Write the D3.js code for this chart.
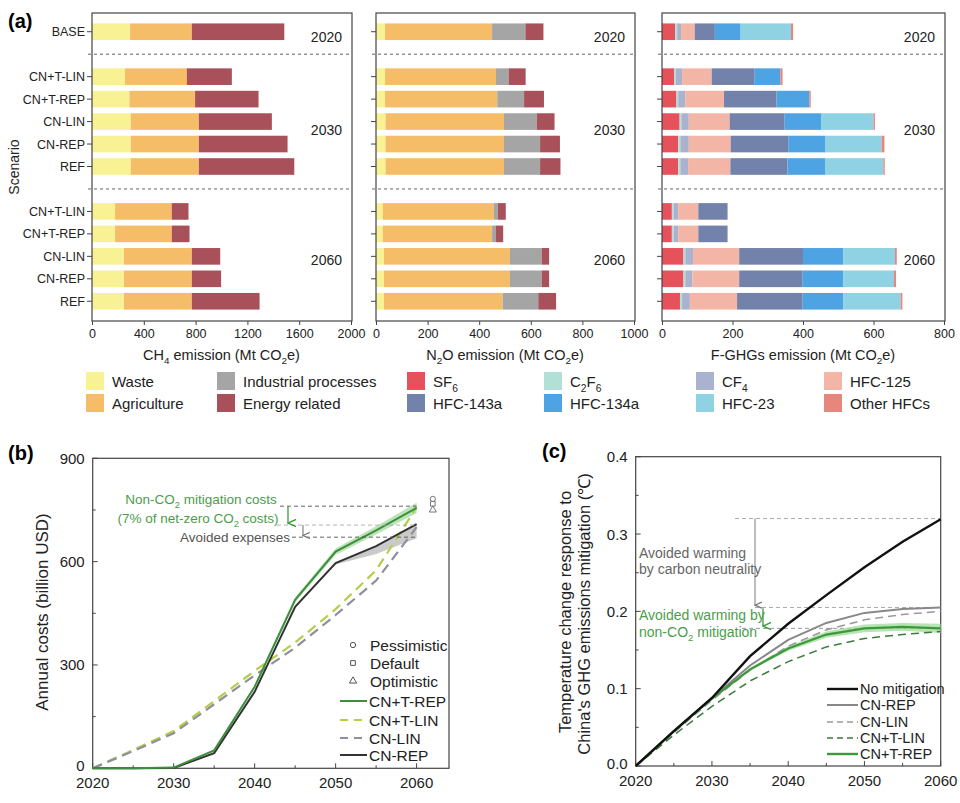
<!DOCTYPE html>
<html><head><meta charset="utf-8">
<script src="https://cdn.jsdelivr.net/npm/d3@7"></script>
<style>body{margin:0;background:#fff}svg{display:block;font-family:"Liberation Sans",Arial,sans-serif}</style>
</head><body><svg id="c" width="960" height="803"></svg>
<script>
// ---------- DATA ----------
const rowLabels = ["BASE","CN+T-LIN","CN+T-REP","CN-LIN","CN-REP","REF","CN+T-LIN","CN+T-REP","CN-LIN","CN-REP","REF"];
const rowSlots = [0,2,3,4,5,6,8,9,10,11,12];
const yearLabels = ["2020","2030","2060"];
const yearSlots = [0,4,10];

const ch4Waste  = [294,255,289,299,299,299,178,178,247,247,247];
const ch4Agri   = [477,477,507,526,526,526,438,438,524,524,524];
const ch4Energy = [714,348,490,564,685,737,129,137,219,226,523];

const n2oWaste  = [35,35,35,37,37,37,26,26,31,31,31];
const n2oAgri   = [415,430,435,459,459,459,431,424,488,488,460];
const n2oInd    = [129,49,104,127,140,140,16,15,123,123,138];
const n2oEnergy = [70,66,77,69,77,79,30,28,29,29,69];

const fSF6     = [37,34,41,50,46,46,28,28,61,61,51];
const fC2F6    = [6,5,5,5,6,6,5,5,5,5,6];
const fCF4     = [11,18,20,21,24,22,13,13,22,20,22];
const fHFC125  = [39,84,110,116,119,120,57,57,131,133,134];
const fHFC143a = [57,122,149,156,163,162,83,83,181,180,186];
const fHFC134a = [73,73,93,103,106,108,0,0,114,115,115];
const fHFC23   = [143,0,0,149,159,164,0,0,147,144,163];
const fOther   = [6,6,4,4,8,4,0,0,5,6,5];

const ch4Ticks = [0,400,800,1200,1600,2000];
const n2oTicks = [0,200,400,600,800,1000];
const fTicks   = [0,200,400,600,800];

const years = [2020,2025,2030,2035,2040,2045,2050,2055,2060];
const costCNTREP = [0,0,2,52,237,489,629,691,756];
const costCNREP  = [0,0,1,44,222,469,596,645,709];
const costCNTLIN = [0,53,108,195,283,365,462,575,758];
const costCNLIN  = [0,50,102,186,270,350,445,545,700];
const costCNTREPband = [0,0,0,2,4,7,9,12,15];
const costCNREPlow = [0,0,1,44,222,469,592,622,668];
const scenarioCostMarks = [782,768,750]; // pessimistic, default, optimistic at 2062
const costYTicks = [0,300,600,900];
const costXTicks = [2020,2030,2040,2050,2060];

const tempNoMit = [0,0.045,0.088,0.142,0.184,0.221,0.257,0.290,0.319];
const tempCNREP = [0,0.045,0.088,0.130,0.163,0.185,0.198,0.203,0.205];
const tempCNLIN = [0,0.043,0.085,0.124,0.155,0.176,0.189,0.196,0.200];
const tempCNTLIN = [0,0.040,0.077,0.110,0.135,0.154,0.165,0.170,0.174];
const tempCNTREP = [0,0.045,0.087,0.125,0.152,0.170,0.178,0.180,0.178];
const tempBand = [0,0,0.001,0.002,0.003,0.004,0.005,0.005,0.006];
const tempYTicks = [0,0.1,0.2,0.3,0.4];

// ---------- HELPERS ----------
const svg = d3.select("#c");
const AX = "#444";
function rich(sel, parts, fs){ // parts: "text" or ["sub"]
  let shift = 0;
  parts.forEach(p=>{
    const isSub = typeof p !== "string";
    const t = sel.append("tspan").text(isSub ? p[0] : p);
    const target = isSub ? fs*0.3 : 0;
    if(target !== shift) t.attr("dy", target - shift);
    shift = target;
    if(isSub) t.attr("font-size", fs*0.68);
  });
  return sel;
}
svg.append("defs").html(`
<marker id="ag" viewBox="0 0 10 10" refX="5" refY="9" markerWidth="7" markerHeight="7" orient="auto-start-reverse"><path d="M1,0 L5,9 L9,0" fill="none" stroke="#3d9b3d" stroke-width="1.6"/></marker>
<marker id="ak" viewBox="0 0 10 10" refX="5" refY="9" markerWidth="7" markerHeight="7" orient="auto-start-reverse"><path d="M1,0 L5,9 L9,0" fill="none" stroke="#777" stroke-width="1.6"/></marker>`);

// ---------- PANEL A ----------
const yA = d3.scaleBand().domain(d3.range(13)).range([20.5,312.5]).paddingInner(0.26).paddingOuter(0.13);
const topA = 13, botA = 321;
const subs = [
 {x0:92,x1:351,max:2000,ticks:ch4Ticks,series:[ch4Waste,ch4Agri,ch4Energy],colors:["#f8f294","#f6bd68","#a9515a"],title:["CH",["4"]," emission (Mt CO",["2"],"e)"],yoff:[5,8,4]},
 {x0:376,x1:634,max:1000,ticks:n2oTicks,series:[n2oWaste,n2oAgri,n2oInd,n2oEnergy],colors:["#f8f294","#f6bd68","#a5a5a5","#a9515a"],title:["N",["2"],"O emission (Mt CO",["2"],"e)"],yoff:[5,8,4]},
 {x0:662,x1:944,max:800,ticks:fTicks,series:[fSF6,fC2F6,fCF4,fHFC125,fHFC143a,fHFC134a,fHFC23,fOther],colors:["#e5525b","#b2e0d6","#a9b3cf","#f3b6a6","#7282aa","#4ea3e3","#8fd2e3","#e6867d"],title:["F-GHGs emission (Mt CO",["2"],"e)"],yoff:[5,8,4]}
];
subs.forEach((s,si)=>{
  const g = svg.append("g");
  const x = d3.scaleLinear().domain([0,s.max]).range([s.x0,s.x1]);
  const rows = rowLabels.map((l,i)=>{const o={slot:rowSlots[i]}; s.series.forEach((arr,k)=>o["k"+k]=arr[i]); return o;});
  const stack = d3.stack().keys(s.series.map((_,k)=>"k"+k))(rows);
  stack.forEach((layer,k)=>{
    g.selectAll(null).data(layer).join("rect")
      .attr("x",d=>x(d[0])).attr("width",d=>Math.max(0,x(d[1])-x(d[0])))
      .attr("y",d=>yA(d.data.slot)).attr("height",yA.bandwidth())
      .attr("fill",s.colors[k]);
  });
  [1,7].forEach(sl=>{
    const yy = yA(sl)+yA.bandwidth()/2;
    g.append("line").attr("x1",s.x0-4).attr("x2",s.x1+1).attr("y1",yy).attr("y2",yy)
      .attr("stroke","#666").attr("stroke-dasharray","3,3").attr("stroke-width",1);
  });
  g.append("rect").attr("x",s.x0).attr("y",topA).attr("width",s.x1-s.x0+1).attr("height",botA-topA)
    .attr("fill","none").attr("stroke",AX).attr("stroke-width",1.2);
  const yy = rowSlots.map(sl=>yA(sl)+yA.bandwidth()/2);
  g.selectAll(null).data(yy).join("line").attr("x1",s.x0-5).attr("x2",s.x0).attr("y1",d=>d).attr("y2",d=>d).attr("stroke",AX);
  if(si===0){
    g.selectAll(null).data(rowLabels).join("text").attr("x",s.x0-7).attr("y",(d,i)=>yy[i]+4.5)
      .attr("text-anchor","end").attr("font-size",12.5).attr("fill","#222").text(d=>d);
  }
  const xa = g.append("g").attr("transform",`translate(0,${botA})`)
    .call(d3.axisBottom(x).tickValues(s.ticks).tickSize(4).tickSizeOuter(0).tickFormat(d3.format("d")));
  xa.select(".domain").remove();
  xa.selectAll("line").attr("stroke",AX);
  xa.selectAll("text").attr("font-size",12.5).attr("fill","#222").attr("dy","0.8em");
  yearLabels.forEach((t,i)=>{
    g.append("text").attr("x",s.x1-9).attr("y",yA(yearSlots[i])+yA.bandwidth()/2+s.yoff[i]+5)
      .attr("text-anchor","end").attr("font-size",14).attr("fill","#222").text(t);
  });
  rich(g.append("text").attr("x",(s.x0+s.x1)/2).attr("y",360).attr("text-anchor","middle").attr("font-size",14.5).attr("fill","#222"), s.title, 14.5);
});
svg.append("text").attr("transform","translate(19,167) rotate(-90)").attr("text-anchor","middle").attr("font-size",14).attr("fill","#222").text("Scenario");
svg.append("text").attr("x",8).attr("y",28).attr("font-size",20).attr("font-weight","bold").text("(a)");

const legItems = [
 {x:86,y:0,c:"#f8f294",t:["Waste"]},{x:86,y:1,c:"#f6bd68",t:["Agriculture"]},
 {x:217,y:0,c:"#a5a5a5",t:["Industrial processes"]},{x:217,y:1,c:"#a9515a",t:["Energy related"]},
 {x:407,y:0,c:"#e5525b",t:["SF",["6"]]},{x:407,y:1,c:"#7282aa",t:["HFC-143a"]},
 {x:544,y:0,c:"#b2e0d6",t:["C",["2"],"F",["6"]]},{x:544,y:1,c:"#4ea3e3",t:["HFC-134a"]},
 {x:696,y:0,c:"#a9b3cf",t:["CF",["4"]]},{x:696,y:1,c:"#8fd2e3",t:["HFC-23"]},
 {x:824,y:0,c:"#f3b6a6",t:["HFC-125"]},{x:824,y:1,c:"#e6867d",t:["Other HFCs"]}
];
legItems.forEach(d=>{
  const yy = 372 + d.y*22;
  svg.append("rect").attr("x",d.x).attr("y",yy).attr("width",18).attr("height",18).attr("fill",d.c);
  rich(svg.append("text").attr("x",d.x+26).attr("y",yy+15).attr("font-size",15).attr("fill","#222"), d.t, 15);
});

// ---------- PANEL B ----------
const xB = d3.scaleLinear().domain([2020,2064]).range([92.7,449]);
const yB = d3.scaleLinear().domain([0,900]).range([768.3,458.3]);
const gB = svg.append("g");
function frameAxes(g,x,y,xt,xminor,yt,yminor,yfmt,x0,x1,y0,y1){
  g.append("rect").attr("x",x0).attr("y",y1).attr("width",x1-x0).attr("height",y0-y1).attr("fill","none").attr("stroke",AX).attr("stroke-width",1.2);
  xt.forEach(v=>g.append("line").attr("x1",x(v)).attr("x2",x(v)).attr("y1",y0).attr("y2",y0-5).attr("stroke",AX));
  xminor.forEach(v=>g.append("line").attr("x1",x(v)).attr("x2",x(v)).attr("y1",y0).attr("y2",y0-3).attr("stroke",AX));
  yt.forEach(v=>g.append("line").attr("x1",x0).attr("x2",x0+5).attr("y1",y(v)).attr("y2",y(v)).attr("stroke",AX));
  yminor.forEach(v=>g.append("line").attr("x1",x0).attr("x2",x0+3).attr("y1",y(v)).attr("y2",y(v)).attr("stroke",AX));
  g.selectAll(null).data(xt).join("text").attr("x",d=>x(d)).attr("y",y0+20).attr("text-anchor","middle").attr("font-size",15).attr("fill","#222").text(d=>d);
  g.selectAll(null).data(yt).join("text").attr("x",x0-8).attr("y",d=>y(d)+(d===0?3:5.5)).attr("text-anchor","end").attr("font-size",15).attr("fill","#222").text(yfmt);
}
frameAxes(gB,xB,yB,costXTicks,[2025,2035,2045,2055],costYTicks,[150,450,750],d=>d,92.7,449,768.3,458.3);

const lineB = arr => d3.line().x((d,i)=>xB(years[i])).y(d=>yB(d))(arr);
const areaGreen = d3.area().x((d,i)=>xB(years[i])).y0((d,i)=>yB(costCNTREP[i]-costCNTREPband[i])).y1((d,i)=>yB(costCNTREP[i]+costCNTREPband[i]));
gB.append("path").attr("d",areaGreen(years)).attr("fill","#9fd89a").attr("opacity",0.7);
const areaGray = d3.area().x((d,i)=>xB(years[i])).y0((d,i)=>yB(costCNREPlow[i])).y1((d,i)=>yB(costCNREP[i]));
gB.append("path").attr("d",areaGray(years)).attr("fill","#bdbdbd").attr("opacity",0.8);
gB.append("path").attr("d",lineB(costCNTLIN)).attr("fill","none").attr("stroke","#b3cf4a").attr("stroke-width",2.2).attr("stroke-dasharray","10,6");
gB.append("path").attr("d",lineB(costCNLIN)).attr("fill","none").attr("stroke","#8d8f9d").attr("stroke-width",2.2).attr("stroke-dasharray","10,6");
gB.append("path").attr("d",lineB(costCNREP)).attr("fill","none").attr("stroke","#333").attr("stroke-width",2);
gB.append("path").attr("d",lineB(costCNTREP)).attr("fill","none").attr("stroke","#3d8f3d").attr("stroke-width",2);
const symTypes=[d3.symbolCircle,d3.symbolSquare,d3.symbolTriangle];
scenarioCostMarks.forEach((v,i)=>{
  gB.append("path").attr("d",d3.symbol().type(symTypes[i]).size(22)()).attr("transform",`translate(${xB(2062)},${yB(v)})`).attr("fill","none").attr("stroke","#777").attr("stroke-width",1);
});
[[761,280,"#555"],[706,277,"#aaa"],[671,292,"#555"]].forEach(([v,xs,c])=>{
  gB.append("line").attr("x1",xs).attr("x2",xB(2060)).attr("y1",yB(v)).attr("y2",yB(v)).attr("stroke",c).attr("stroke-width",0.9).attr("stroke-dasharray","4,3");
});
gB.append("line").attr("x1",288).attr("x2",288).attr("y1",yB(761)).attr("y2",yB(712)).attr("stroke","#3d9b3d").attr("stroke-width",1.3).attr("marker-end","url(#ag)");
gB.append("line").attr("x1",303).attr("x2",303).attr("y1",yB(706)).attr("y2",yB(676)).attr("stroke","#777").attr("stroke-width",1.1).attr("marker-end","url(#ak)");
rich(gB.append("text").attr("x",201).attr("y",504).attr("text-anchor","middle").attr("font-size",13.5).attr("fill","#4a9e4a"),["Non-CO",["2"]," mitigation costs"],13.5);
rich(gB.append("text").attr("x",198).attr("y",523).attr("text-anchor","middle").attr("font-size",13.5).attr("fill","#4a9e4a"),["(7% of net-zero CO",["2"]," costs)"],13.5);
gB.append("text").attr("x",290).attr("y",542).attr("text-anchor","end").attr("font-size",13.5).attr("fill","#555").text("Avoided expenses");
["Pessimistic","Default","Optimistic"].forEach((t,i)=>{
  const yy=[645,663,681][i];
  gB.append("path").attr("d",d3.symbol().type(symTypes[i]).size(22)()).attr("transform",`translate(353,${yy})`).attr("fill","none").attr("stroke","#555").attr("stroke-width",1);
  gB.append("text").attr("x",370).attr("y",yy+5.5).attr("font-size",15.5).attr("fill","#222").text(t);
});
[["CN+T-REP","#3d8f3d",null],["CN+T-LIN","#b3cf4a","8,6"],["CN-LIN","#8d8f9d","8,6"],["CN-REP","#333",null]].forEach(([t,c,da],i)=>{
  const yy=[701,720,738,755][i];
  gB.append("line").attr("x1",340).attr("x2",367).attr("y1",yy).attr("y2",yy).attr("stroke",c).attr("stroke-width",2).attr("stroke-dasharray",da);
  gB.append("text").attr("x",369).attr("y",yy+5.5).attr("font-size",15.5).attr("fill","#222").text(t);
});
svg.append("text").attr("transform","translate(48,612) rotate(-90)").attr("text-anchor","middle").attr("font-size",17).attr("fill","#222").text("Annual costs (billion USD)");
svg.append("text").attr("x",8).attr("y",460).attr("font-size",20).attr("font-weight","bold").text("(b)");

// ---------- PANEL C ----------
const xC = d3.scaleLinear().domain([2020,2060]).range([635.7,940.7]);
const yC = d3.scaleLinear().domain([0,0.4]).range([766,456.7]);
const gC = svg.append("g");
frameAxes(gC,xC,yC,costXTicks,[2025,2035,2045,2055],tempYTicks,[0.05,0.15,0.25,0.35],d=>d.toFixed(1),635.7,940.7,766,456.7);
const lineC = arr => d3.line().x((d,i)=>xC(years[i])).y(d=>yC(d))(arr);
gC.append("line").attr("x1",735).attr("x2",940).attr("y1",yC(0.32)).attr("y2",yC(0.32)).attr("stroke","#aaa").attr("stroke-dasharray","4,3");
gC.append("line").attr("x1",755).attr("x2",940).attr("y1",yC(0.205)).attr("y2",yC(0.205)).attr("stroke","#aaa").attr("stroke-dasharray","4,3");
gC.append("line").attr("x1",742).attr("x2",940).attr("y1",yC(0.178)).attr("y2",yC(0.178)).attr("stroke","#999").attr("stroke-dasharray","4,3");
const bandC = d3.area().x((d,i)=>xC(years[i])).y0((d,i)=>yC(tempCNTREP[i]-tempBand[i])).y1((d,i)=>yC(tempCNTREP[i]+tempBand[i]));
gC.append("path").attr("d",bandC(years)).attr("fill","#a6dca0").attr("opacity",0.8);
gC.append("path").attr("d",lineC(tempCNLIN)).attr("fill","none").attr("stroke","#9a9a9a").attr("stroke-width",1.5).attr("stroke-dasharray","8,5");
gC.append("path").attr("d",lineC(tempCNTLIN)).attr("fill","none").attr("stroke","#3d7a3d").attr("stroke-width",1.5).attr("stroke-dasharray","8,5");
gC.append("path").attr("d",lineC(tempCNREP)).attr("fill","none").attr("stroke","#888").attr("stroke-width",2);
gC.append("path").attr("d",lineC(tempCNTREP)).attr("fill","none").attr("stroke","#3c9a3c").attr("stroke-width",2.2);
gC.append("path").attr("d",lineC(tempNoMit)).attr("fill","none").attr("stroke","#111").attr("stroke-width",2.4);
gC.append("line").attr("x1",755).attr("x2",755).attr("y1",yC(0.32)).attr("y2",yC(0.208)).attr("stroke","#888").attr("stroke-width",1.1).attr("marker-end","url(#ak)");
gC.append("line").attr("x1",763).attr("x2",763).attr("y1",yC(0.204)).attr("y2",yC(0.181)).attr("stroke","#3d9b3d").attr("stroke-width",1.3).attr("marker-end","url(#ag)");
gC.append("text").attr("x",639).attr("y",558).attr("font-size",14).attr("fill","#666").text("Avoided warming");
gC.append("text").attr("x",639).attr("y",574).attr("font-size",14).attr("fill","#666").text("by carbon neutrality");
gC.append("text").attr("x",639).attr("y",620).attr("font-size",14).attr("fill","#4a9e4a").text("Avoided warming by");
rich(gC.append("text").attr("x",639).attr("y",637).attr("font-size",14).attr("fill","#4a9e4a"),["non-CO",["2"]," mitigation"],14);
[["No mitigation","#111",null,2.4],["CN-REP","#888",null,2],["CN-LIN","#9a9a9a","6,4",1.5],["CN+T-LIN","#3d7a3d","6,4",1.5],["CN+T-REP","#3c9a3c",null,2.4]].forEach(([t,c,da,w],i)=>{
  const yy=[689,705,722,738,754][i];
  gC.append("line").attr("x1",827).attr("x2",858).attr("y1",yy).attr("y2",yy).attr("stroke",c).attr("stroke-width",w).attr("stroke-dasharray",da);
  gC.append("text").attr("x",860).attr("y",yy+5).attr("font-size",14.5).attr("fill","#222").text(t);
});
svg.append("text").attr("transform","translate(571,612) rotate(-90)").attr("text-anchor","middle").attr("font-size",16.5).attr("fill","#222").text("Temperature change response to");
svg.append("text").attr("transform","translate(590,614) rotate(-90)").attr("text-anchor","middle").attr("font-size",16.5).attr("fill","#222").text("China's GHG emissions mitigation (℃)");
svg.append("text").attr("x",542).attr("y",458).attr("font-size",20).attr("font-weight","bold").text("(c)");
</script></body></html>
